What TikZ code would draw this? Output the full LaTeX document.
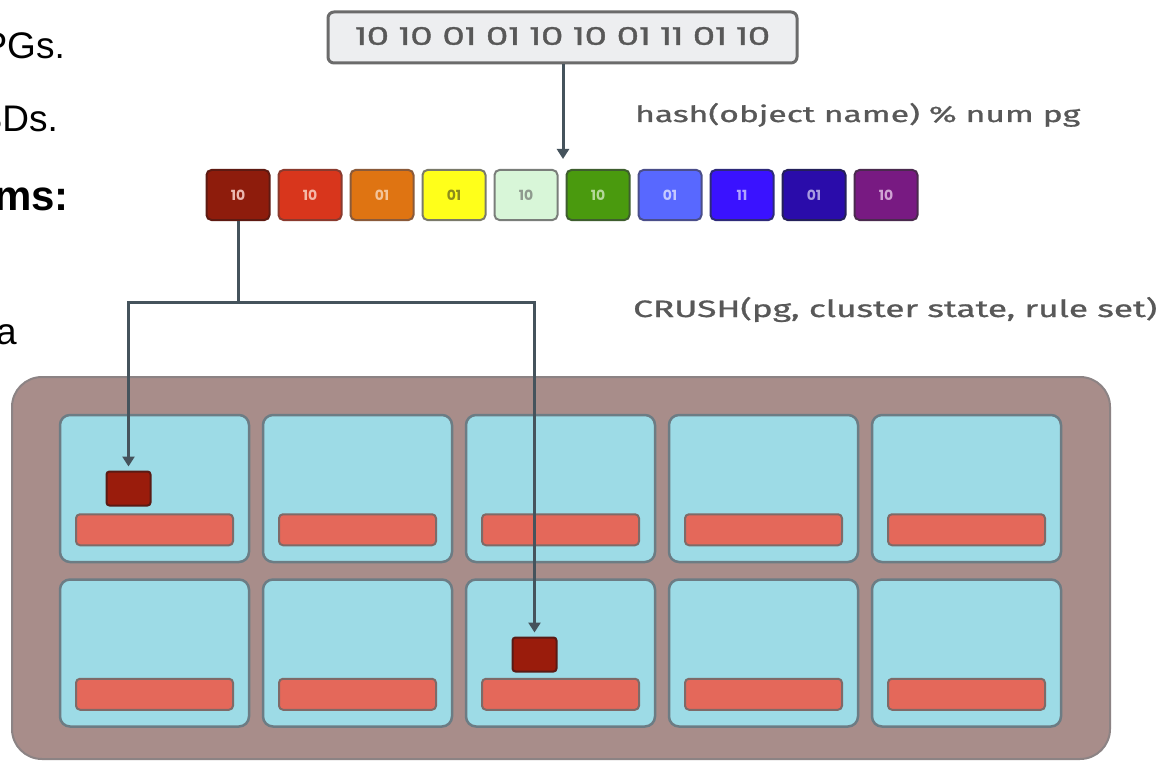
\documentclass[tikz,border=0pt]{standalone}
\usepackage{fontspec}
\setmainfont{Liberation Sans}
\newfontfamily\geofont{Poppins}
\newfontfamily\geofontheavy[FakeBold=1.2]{Poppins}
\newfontfamily\notefont[FakeBold=0.8]{Fira Sans}
\usetikzlibrary{arrows.meta}

% placement-group colours (fill, label, border)
\definecolor{pg1}{HTML}{8E1C0C}  \definecolor{pgt1}{HTML}{EBB8B0}  \definecolor{pgb1}{HTML}{5E1A12}
\definecolor{pg2}{HTML}{D8361C}  \definecolor{pgt2}{HTML}{F4B8A8}  \definecolor{pgb2}{HTML}{8A3A2E}
\definecolor{pg3}{HTML}{DF7412}  \definecolor{pgt3}{HTML}{F4C49A}  \definecolor{pgb3}{HTML}{8A5A3A}
\definecolor{pg4}{HTML}{FFFF1A}  \definecolor{pgt4}{HTML}{8C8C1C}  \definecolor{pgb4}{HTML}{7A7A6A}
\definecolor{pg5}{HTML}{D8F6D8}  \definecolor{pgt5}{HTML}{8E9A8E}  \definecolor{pgb5}{HTML}{7A7E7A}
\definecolor{pg6}{HTML}{4A9A0E}  \definecolor{pgt6}{HTML}{B4D89A}  \definecolor{pgb6}{HTML}{3E5E2E}
\definecolor{pg7}{HTML}{5868FF}  \definecolor{pgt7}{HTML}{C4CAFF}  \definecolor{pgb7}{HTML}{4A4E8A}
\definecolor{pg8}{HTML}{3A12FF}  \definecolor{pgt8}{HTML}{B0A4FF}  \definecolor{pgb8}{HTML}{2E2A7A}
\definecolor{pg9}{HTML}{2A0CAA}  \definecolor{pgt9}{HTML}{A89CE0}  \definecolor{pgb9}{HTML}{24205A}
\definecolor{pg10}{HTML}{781A82} \definecolor{pgt10}{HTML}{D0A4D4} \definecolor{pgb10}{HTML}{4A2A4E}

\definecolor{bitsfill}{HTML}{EDEEF0}
\definecolor{bitsline}{HTML}{6B6B6B}
\definecolor{notegray}{HTML}{585858}
\definecolor{linkgray}{HTML}{45535C}
\definecolor{clusterfill}{HTML}{A88D8A}
\definecolor{clusterline}{HTML}{8C8384}
\definecolor{cellfill}{HTML}{9DDBE6}
\definecolor{cellline}{HTML}{6C7C84}
\definecolor{barfill}{HTML}{E4685A}
\definecolor{barline}{HTML}{7E6A68}
\definecolor{objfill}{HTML}{9A1C0C}
\definecolor{objline}{HTML}{5A1A14}

\begin{document}
\begin{tikzpicture}[x=1pt,y=-1pt,
  pgsq/.style={draw=pgb#1, fill=pg#1, text=pgt#1, line width=2pt,
    rounded corners=5pt, minimum width=63pt, minimum height=50pt, inner sep=0pt,
    font=\geofont\bfseries\fontsize{14}{14}\selectfont},
  cluster/.style={draw=clusterline, fill=clusterfill, line width=2pt,
    rounded corners=30pt, minimum width=1098pt, minimum height=382pt, inner sep=0pt},
  cell/.style={draw=cellline, fill=cellfill, line width=2.5pt, rounded corners=10pt,
    minimum width=189pt, minimum height=147pt, inner sep=0pt},
  bar/.style={draw=barline, fill=barfill, line width=2pt, rounded corners=4pt,
    minimum width=157pt, minimum height=31pt, inner sep=0pt},
  objsq/.style={draw=objline, fill=objfill, line width=2pt, rounded corners=3pt,
    minimum width=44pt, minimum height=34pt, inner sep=0pt},
  link/.style={draw=linkgray, line width=3pt},
  arr/.style={-{Triangle[length=10pt,width=12pt]}},
  slidetext/.style={anchor=base east, inner sep=0pt, text=black,
    font=\fontsize{37}{37}\selectfont},
  note/.style={anchor=base west, inner sep=0pt, text=notegray}
]
\useasboundingbox (0,0) rectangle (1161,762);
\fill[white] (0,0) rectangle (1161,762);

% slide text running in from the left edge
\begin{scope}
  \clip (0,0) rectangle (1161,762);
  \node[slidetext] (t1) at (65,59) {PGs.};
  \node[slidetext] (t2) at (58,132) {SDs.};
  \node[slidetext, font=\bfseries\fontsize{42}{42}\selectfont] (t3) at (69,210) {ms:};
  \node[slidetext] (t4) at (17,344) {a};
\end{scope}

% object bit string
\node[draw=bitsline, fill=bitsfill, line width=3pt, rounded corners=6pt,
      minimum width=469pt, minimum height=51pt, inner sep=0pt] (bits) at (562.5,37.5) {};
\node[anchor=base west, inner sep=0pt] (bitstext) at (355,45)
  {\resizebox{415pt}{18pt}{\geofontheavy\color{notegray}10 10 01 01 10 10 01 11 01 10}};

% captions
\node[note] (hash) at (635,122)
  {\resizebox{445pt}{19pt}{\notefont hash(object name) \% num pg}};
\node[note] (crush) at (633,317)
  {\resizebox{524pt}{20pt}{\notefont CRUSH(pg, cluster state, rule set)}};

% placement groups
\foreach \i/\l in {1/10,2/10,3/01,4/01,5/10,6/10,7/01,8/11,9/01,10/10}
  \node[pgsq=\i] (pg\i) at ({238+72*(\i-1)},195) {\l};

% cluster of OSDs
\node[cluster] (cluster) at (561,568) {};
\foreach \r/\y in {1/488.5,2/653}
  \foreach \c in {1,...,5} {
    \node[cell] (cell\r\c) at ({154.5+203*(\c-1)},\y) {};
    \node[bar] (bar\r\c) at ([yshift=33.5pt]cell\r\c.south) {};
  }

% replicas of the object
\node[objsq] (obj1) at (128.5,488.5) {};
\node[objsq] (obj2) at (534.5,654.5) {};

% hashing arrow
\coordinate (hashtip) at (563,159);
\draw[link,arr] (bits.south -| hashtip) -- (hashtip);

% CRUSH placement
\coordinate (busy) at (0,302);
\coordinate (split) at (pg1.south |- busy);
\draw[link] (pg1.south) -- (split);
\draw[link,arr,shorten >=4pt] (split) -| (obj1.north);
\draw[link,arr,shorten >=4pt] (split) -| (obj2.north);
\end{tikzpicture}
\end{document}
